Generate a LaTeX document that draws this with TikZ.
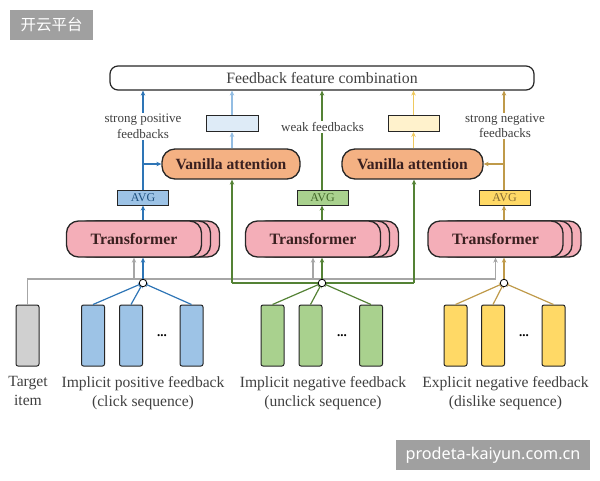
\documentclass[tikz,border=0pt]{standalone}
\usepackage{fontspec}
\setmainfont{Liberation Serif}
\newfontfamily\cjk{Noto Sans CJK SC}
\newfontfamily\wmfont{Noto Sans}
\usetikzlibrary{arrows.meta,calc}
\definecolor{cblue}{HTML}{2E75B6}
\definecolor{fblue}{HTML}{9DC3E6}
\definecolor{lblue}{HTML}{DEEBF7}
\definecolor{ablue}{HTML}{93BDE3}
\definecolor{cgreen}{HTML}{548235}
\definecolor{fgreen}{HTML}{A9D18E}
\definecolor{cgold}{HTML}{BF9A4A}
\definecolor{fyellow}{HTML}{FFD966}
\definecolor{lyellow}{HTML}{FFF2CC}
\definecolor{ayellow}{HTML}{EFC95E}
\definecolor{forange}{HTML}{F4B183}
\definecolor{fpink}{HTML}{F4AEB8}
\definecolor{cgray}{HTML}{A6A6A6}
\definecolor{fgray}{HTML}{D0D0D0}
\definecolor{edge}{HTML}{262626}
\definecolor{txt}{HTML}{404040}
\definecolor{btxt}{HTML}{3A2020}
\definecolor{wm}{HTML}{A0A0A0}
\tikzset{
  x=1pt, y=-1pt,
  tip/.style={-{Stealth[length=5pt,width=4.5pt]}},
  topbox/.style={draw=edge, line width=1.2pt, rounded corners=8pt, fill=white, minimum width=424pt, minimum height=24pt, text=txt, font=\fontsize{15.8}{17}\selectfont, inner sep=0pt},
  vanbox/.style={draw=edge, line width=1.3pt, rounded corners=13pt, fill=forange, minimum height=30pt, text=btxt, font=\bfseries\fontsize{15.6}{17}\selectfont, inner sep=0pt},
  trbox/.style={draw=edge, line width=1.3pt, rounded corners=12pt, fill=fpink, minimum width=135pt, minimum height=36pt, text=btxt, font=\bfseries\fontsize{15.8}{17}\selectfont, inner sep=0pt},
  avgbox/.style={draw=edge, line width=1pt, minimum width=51pt, minimum height=15pt, font=\fontsize{12}{13}\selectfont, inner sep=0pt},
  smallrect/.style={draw=edge, line width=1pt, minimum width=52pt, minimum height=16pt, inner sep=0pt},
  seqbox/.style={draw=edge, line width=1pt, rounded corners=2pt, minimum width=23pt, minimum height=61pt, inner sep=0pt},
  junc/.style={circle, draw=black, fill=white, line width=0.8pt, minimum size=7.5pt, inner sep=0pt},
  lbl/.style={text=txt, font=\fontsize{15.6}{19.5}\selectfont, align=center, inner sep=0pt},
  slbl/.style={text=txt, font=\fontsize{13}{15.5}\selectfont, align=center, fill=white, inner sep=1pt},
  dots/.style={font=\bfseries\fontsize{13}{13}\selectfont, inner sep=0pt},
}
\begin{document}
\begin{tikzpicture}
\useasboundingbox (0,0) rectangle (600,480);
% watermarks
\node[fill=wm, minimum width=83pt, minimum height=30pt, inner sep=0pt, text=white, font=\cjk\fontsize{15.5}{16}\selectfont] (wm1) at (51.5,25) {开云平台};
\node[fill=wm, minimum width=194pt, minimum height=30pt, inner sep=0pt, text=white, font=\wmfont\fontsize{16.2}{17}\selectfont] (wm2) at (493,455) {prodeta-kaiyun.com.cn};

% top box
\node[topbox] (top) at (322,78) {Feedback feature combination};

% transformers (stacked)
\foreach \n/\cx in {T1/134, T2/313, T3/495.5}{
  \node[trbox] at (\cx+18,239) {};
  \node[trbox] at (\cx+9,239) {};
}
\node[trbox] (T1) at (134,239) {Transformer};
\node[trbox] (T2) at (313,239) {Transformer};
\node[trbox] (T3) at (495.5,239) {Transformer};

% AVG
\node[avgbox, fill=fblue, text=cblue!70!black] (A1) at (143,197.5) {AVG};
\node[avgbox, fill=fgreen, text=cgreen!80!black] (A2) at (322.5,197.5) {AVG};
\node[avgbox, fill=fyellow, text=cgold!70!black] (A3) at (504.5,197.5) {AVG};

% vanilla attention
\node[vanbox, minimum width=138pt] (V1) at (231,164) {Vanilla attention};
\node[vanbox, minimum width=141pt] (V2) at (412.5,164) {Vanilla attention};

% small rects
\node[smallrect, fill=lblue] (R1) at (232,123.5) {};
\node[smallrect, fill=lyellow, minimum width=51pt] (R2) at (413.5,123.5) {};

% sequence boxes
\node[seqbox, fill=fgray] (G) at (27.5,335.5) {};
\node[seqbox, fill=fblue] (B1) at (93,335.5) {};
\node[seqbox, fill=fblue] (B2) at (131,335.5) {};
\node[seqbox, fill=fblue] (B3) at (191.5,335.5) {};
\node[seqbox, fill=fgreen] (N1) at (272.5,335.5) {};
\node[seqbox, fill=fgreen] (N2) at (310.5,335.5) {};
\node[seqbox, fill=fgreen] (N3) at (371,335.5) {};
\node[seqbox, fill=fyellow] (Y1) at (455.5,335.5) {};
\node[seqbox, fill=fyellow] (Y2) at (493,335.5) {};
\node[seqbox, fill=fyellow] (Y3) at (553.5,335.5) {};
\node[dots] (d1) at (162,336) {...};
\node[dots] (d2) at (342,336) {...};
\node[dots] (d3) at (524,336) {...};

% junctions
\coordinate (jb) at (143,283);
\coordinate (jg) at (322,283);
\coordinate (jy) at (504,283);

% gray target line
\coordinate (g0) at (27.5,279);
\coordinate (g3) at (495.5,279);
\draw[cgray, line width=1.3pt] (G.north) -- (g0) -- (g3);
\draw[cgray, line width=1.3pt, tip] (T1.south |- g0) -- (T1.south);
\draw[cgray, line width=1.3pt, tip] (T2.south |- g0) -- (T2.south);
\draw[cgray, line width=1.3pt, tip] (g3) -- (T3.south);

% green loop to vanilla attentions
\coordinate (gl) at (232,283);
\coordinate (gr) at (414,283);
\draw[cgreen, line width=1.3pt] (gl) -- (gr);
\draw[cgreen, line width=1.3pt, tip] (gl) -- (gl |- V1.south);
\draw[cgreen, line width=1.3pt, tip] (gr) -- (gr |- V2.south);

% sequence to junctions
\foreach \b in {B1,B2,B3}{\draw[cblue, line width=1.2pt, tip] (\b.north) -- (jb);}
\foreach \b in {N1,N2,N3}{\draw[cgreen, line width=1.2pt, tip] (\b.north) -- (jg);}
\foreach \b in {Y1,Y2,Y3}{\draw[cgold, line width=1.2pt, tip] (\b.north) -- (jy);}

% junction to transformer
\draw[cblue, line width=1.5pt, tip] (jb) -- (jb |- T1.south);
\draw[cgreen, line width=1.5pt, tip] (jg) -- (jg |- T2.south);
\draw[cgold, line width=1.5pt, tip] (jy) -- (jy |- T3.south);
\node[junc] (cb) at (jb) {};
\node[junc] (cg) at (jg) {};
\node[junc] (cy) at (jy) {};

% transformer to AVG
\draw[cblue, line width=1.5pt, tip] (A1.south |- T1.north) -- (A1.south);
\draw[cgreen, line width=1.3pt, tip] (jg |- T2.north) -- (jg |- A2.south);
\draw[cgold, line width=1.3pt, tip] (jy |- T3.north) -- (jy |- A3.south);

% AVG to top
\draw[cblue, line width=1.5pt, tip] (A1.north) -- (A1.north |- top.south);
\draw[cgreen, line width=1.3pt, tip] (jg |- A2.north) -- (jg |- top.south);
\draw[cgold, line width=1.5pt, tip] (jy |- A3.north) -- (jy |- top.south);

% branches to vanilla
\draw[cblue, line width=1.5pt, tip] (A1.north |- V1.west) -- (V1.west);
\draw[cgold, line width=1.5pt, tip] (jy |- V2.east) -- (V2.east);

% vanilla to small rects to top
\draw[ablue, line width=1.5pt, tip] (V1.north -| R1.south) -- (R1.south);
\draw[ablue, line width=1.5pt, tip] (R1.north) -- (R1.north |- top.south);
\draw[ayellow, line width=1.5pt, tip] (V2.north -| R2.south) -- (R2.south);
\draw[ayellow, line width=1.5pt, tip] (R2.north) -- (R2.north |- top.south);

% small labels
\node[slbl] (l1) at (143,126.5) {strong positive\\feedbacks};
\node[slbl] (l2) at (322.5,127) {weak feedbacks};
\node[slbl] (l3) at (505,126) {strong negative\\feedbacks};

% bottom labels
\node[lbl, anchor=north] (t0) at (28,376) {Target\\item};
\node[lbl, anchor=north] (t1) at (143,376) {Implicit positive feedback\\(click sequence)};
\node[lbl, anchor=north] (t2) at (323,376) {Implicit negative feedback\\(unclick sequence)};
\node[lbl, anchor=north] (t3) at (505.5,376) {Explicit negative feedback\\(dislike sequence)};
\end{tikzpicture}
\end{document}
